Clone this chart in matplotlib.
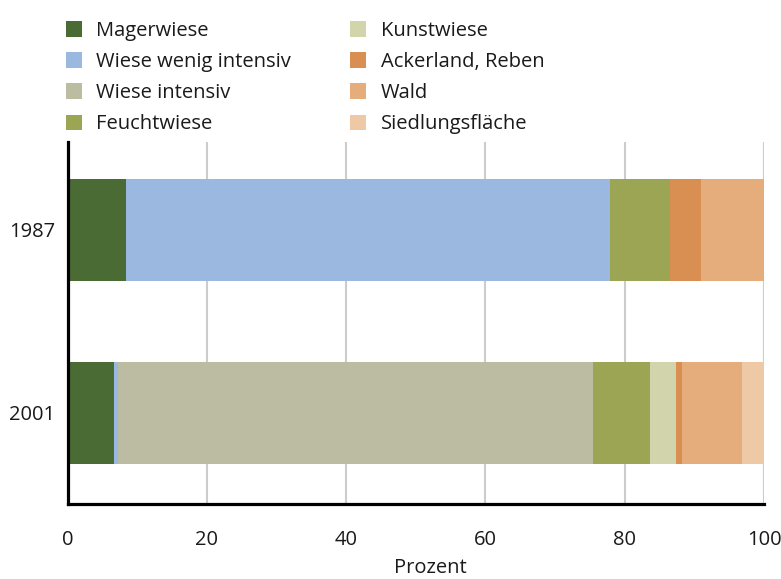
import matplotlib
matplotlib.use("Agg")
import matplotlib.pyplot as plt
import numpy as np

plt.rcParams['font.family'] = ['Open Sans', 'DejaVu Sans']

years = ["2001", "1987"]
categories = ["Magerwiese", "Wiese wenig intensiv", "Wiese intensiv", "Feuchtwiese",
              "Kunstwiese", "Ackerland, Reben", "Wald", "Siedlungsfläche"]
# values per category: [2001, 1987]
magerwiese = [6.7, 8.4]
wiese_wenig = [0.6, 69.5]
wiese_intensiv = [68.1, 0.0]
feuchtwiese = [8.3, 8.6]
kunstwiese = [3.7, 0.0]
ackerland = [0.8, 4.4]
wald = [8.6, 9.1]
siedlung = [3.2, 0.0]
series = [magerwiese, wiese_wenig, wiese_intensiv, feuchtwiese,
          kunstwiese, ackerland, wald, siedlung]
colors = ["#4a6b34", "#9bb8e0", "#bcbca3", "#9ca554",
          "#d2d4ac", "#d98f52", "#e4ad7b", "#efc9a5"]
xticks = [0, 20, 40, 60, 80, 100]

FS = 14.5
fig = plt.figure(figsize=(7.81, 5.79), dpi=100)
ax = fig.add_axes([67.5/781, 1-504/579, (764-67.5)/781, (504-142)/579])

y = np.arange(len(years))
left = np.zeros(len(years))
handles = []
for vals, c, name in zip(series, colors, categories):
    b = ax.barh(y, vals, left=left, height=0.556, color=c, label=name, zorder=3)
    handles.append(b)
    left += np.array(vals)

ax.set_xlim(0, 100)
ax.set_ylim(-0.496, 1.477)
ax.set_xticks(xticks)
ax.set_xticklabels([str(t) for t in xticks], fontsize=FS, color='#1a1a1a')
ax.set_yticks(y)
ax.set_yticklabels(years, fontsize=FS, color='#1a1a1a')
ax.tick_params(axis='x', length=0, pad=19)
ax.tick_params(axis='y', length=0, pad=9)
ax.grid(axis='x', color='#cccccc', linewidth=1.5, zorder=0)
for s in ['top', 'right']:
    ax.spines[s].set_visible(False)
for s in ['left', 'bottom']:
    ax.spines[s].set_linewidth(2.3)
    ax.spines[s].set_color('black')
    ax.spines[s].set_zorder(5)
ax.set_xlabel("Prozent", fontsize=FS, color='#1a1a1a')
ax.xaxis.set_label_coords((430-67.5)/(764-67.5), -0.148)

leg = fig.legend(handles=handles, labels=categories, ncol=2,
                 loc='upper left', bbox_to_anchor=(66/781, 1-21/579),
                 frameon=False, fontsize=FS, handlelength=0.8, handleheight=0.8,
                 handletextpad=0.7, labelspacing=0.55, columnspacing=2.95,
                 borderaxespad=0, borderpad=0)
for t in leg.get_texts():
    t.set_color('#1a1a1a')

fig.savefig("out.png", dpi=100)
